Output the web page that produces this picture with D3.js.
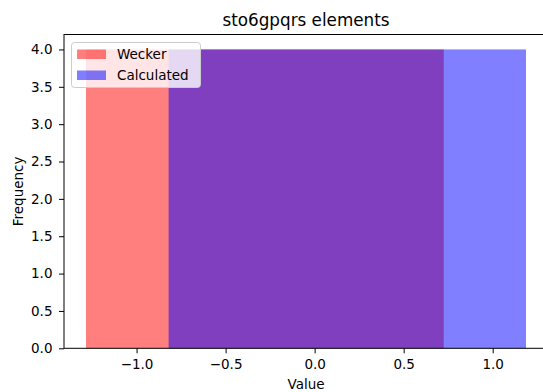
<!DOCTYPE html>
<html>
<head>
<meta charset="utf-8">
<script src="https://cdn.jsdelivr.net/npm/d3@7"></script>
<style>
  html, body { margin: 0; padding: 0; background: #fff; }
  svg { display: block; font-family: "DejaVu Sans", sans-serif; }
</style>
</head>
<body>
<svg id="chart" width="543" height="392"></svg>
<script>
// Histogram bins: [start, end] of each bar and the count in it
const weckerBins = [[-1.284, 0.725]];
const weckerCounts = [4];
const calcBins = [[-0.820, 1.187]];
const calcCounts = [4];

const seriesNames = ["Wecker", "Calculated"];
const seriesColors = ["#ff0000", "#0000ff"];

const xTicks = [-1.0, -0.5, 0.0, 0.5, 1.0];
const yTicks = [0, 0.5, 1.0, 1.5, 2.0, 2.5, 3.0, 3.5, 4.0];

const titleText = "sto6gpqrs elements";
const xLabel = "Value";
const yLabel = "Frequency";

const svg = d3.select("#chart");
const plotLeft = 64, plotRight = 548, plotTop = 34.5, plotBottom = 348.3;
const tickFont = 13.5;

// 5% padding around the data range on x, up to 4.2 on y
const allEdges = weckerBins.concat(calcBins).flat();
const xmin = d3.min(allEdges), xmax = d3.max(allEdges);
const pad = (xmax - xmin) * 0.05;
const x = d3.scaleLinear().domain([xmin - pad, xmax + pad]).range([plotLeft, plotRight]);
const ymax = d3.max(weckerCounts.concat(calcCounts)) * 1.05;
const y = d3.scaleLinear().domain([0, ymax]).range([plotBottom, plotTop]);

function drawBars(bins, counts, color) {
  svg.append("g").selectAll("rect")
    .data(bins.map((b, i) => ({ x0: b[0], x1: b[1], n: counts[i] })))
    .join("rect")
    .attr("x", d => x(d.x0))
    .attr("width", d => x(d.x1) - x(d.x0))
    .attr("y", d => y(d.n))
    .attr("height", d => y(0) - y(d.n))
    .attr("fill", color)
    .attr("fill-opacity", 0.5);
}
drawBars(weckerBins, weckerCounts, seriesColors[0]);
drawBars(calcBins, calcCounts, seriesColors[1]);

// Axes
const fmt = d3.format(".1f");
const xAxis = svg.append("g")
  .attr("transform", `translate(0,${plotBottom})`)
  .call(d3.axisBottom(x).tickValues(xTicks).tickFormat(d => fmt(d).replace("-", "\u2212")).tickSize(5).tickPadding(6.5).tickSizeOuter(0));
const yAxis = svg.append("g")
  .attr("transform", `translate(${plotLeft},0)`)
  .call(d3.axisLeft(y).tickValues(yTicks).tickFormat(fmt).tickSize(5).tickPadding(6.5).tickSizeOuter(0));
[xAxis, yAxis].forEach(a => {
  a.select(".domain").remove();
  a.selectAll("line").attr("stroke", "#000").attr("stroke-width", 1);
  a.selectAll("text").attr("font-size", tickFont).attr("fill", "#000")
    .attr("font-family", "DejaVu Sans, sans-serif");
});

// Frame
svg.append("rect")
  .attr("x", plotLeft).attr("y", plotTop)
  .attr("width", plotRight - plotLeft).attr("height", plotBottom - plotTop)
  .attr("fill", "none").attr("stroke", "#000").attr("stroke-width", 1);

// Title and axis labels
svg.append("text").attr("x", (plotLeft + plotRight) / 2).attr("y", 25.5)
  .attr("text-anchor", "middle").attr("font-size", 16.8).text(titleText);
svg.append("text").attr("x", (plotLeft + plotRight) / 2).attr("y", 388.5)
  .attr("text-anchor", "middle").attr("font-size", tickFont).text(xLabel);
svg.append("text")
  .attr("transform", `translate(23,${(plotTop + plotBottom) / 2}) rotate(-90)`)
  .attr("text-anchor", "middle").attr("font-size", tickFont).text(yLabel);

// Legend
const lg = svg.append("g");
lg.append("rect")
  .attr("x", 71.5).attr("y", 42.5).attr("width", 129).attr("height", 45)
  .attr("rx", 3).attr("fill", "#fff").attr("fill-opacity", 0.8)
  .attr("stroke", "#ccc").attr("stroke-width", 1);
seriesNames.forEach((name, i) => {
  const cy = 54 + i * 21;
  lg.append("rect").attr("x", 77).attr("y", cy - 4.5).attr("width", 29).attr("height", 9.5)
    .attr("fill", seriesColors[i]).attr("fill-opacity", 0.5);
  lg.append("text").attr("x", 117).attr("y", cy + 4.7)
    .attr("font-size", tickFont).text(name);
});
</script>
</body>
</html>
